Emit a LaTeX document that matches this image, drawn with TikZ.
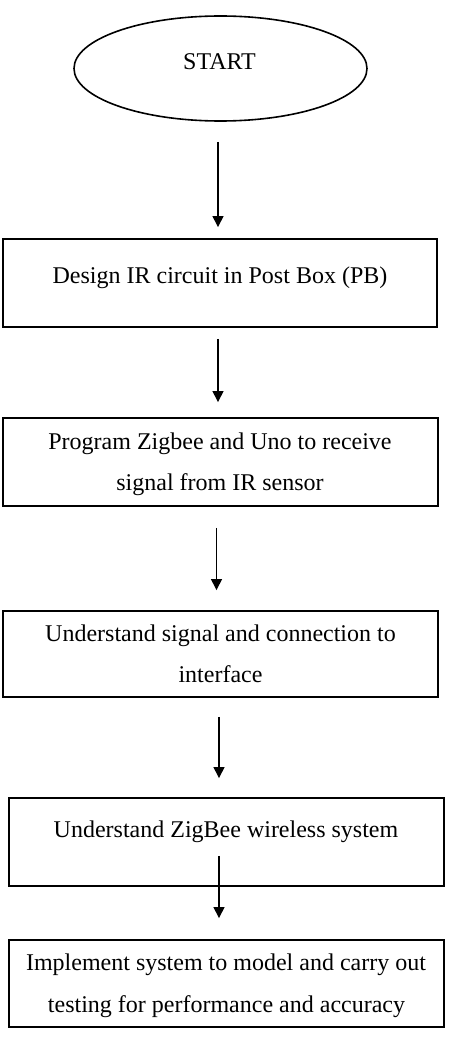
\documentclass[tikz,border=0pt]{standalone}
\usepackage{fontspec}
\setmainfont{Liberation Serif}
\usetikzlibrary{shapes.geometric,arrows.meta}
\begin{document}
\begin{tikzpicture}[x=1pt,y=-1pt,
  box/.style={draw, line width=1.9pt, rectangle, inner sep=0pt, minimum height=88pt},
  startshape/.style={draw, line width=1.6pt, ellipse, inner sep=0pt, minimum width=293pt, minimum height=105pt},
  txt/.style={anchor=base, inner sep=0pt, font=\fontsize{24}{28}\selectfont},
  arr/.style={line width=1.4pt, -{Triangle[width=11pt,length=11pt]}}
]
\useasboundingbox (0,0) rectangle (449,1054);
% shapes
\node[startshape] (e) at (220.5,68.5) {};
\node[box, minimum width=434pt] (b1) at (220,283) {};
\node[box, minimum width=435pt] (b2) at (220.5,462) {};
\node[box, minimum width=435pt, minimum height=86pt] (b3) at (220.5,654) {};
\node[box, minimum width=435pt] (b4) at (226.5,842) {};
\node[box, minimum width=435pt, minimum height=87pt] (b5) at (226.5,983.5) {};
% texts
\node[txt] (t0) at (219.5,70) {START};
\node[txt] (t1) at (220,283) {Design IR circuit in Post Box (PB)};
\node[txt] (t2a) at (220,449) {Program Zigbee and Uno to receive};
\node[txt] (t2b) at (220,490) {signal from IR sensor};
\node[txt] (t3a) at (220.5,641) {Understand signal and connection to};
\node[txt] (t3b) at (220.5,682) {interface};
\node[txt] (t4) at (226,837) {Understand ZigBee wireless system};
\node[txt] (t5a) at (226,970) {Implement system to model and carry out};
\node[txt] (t5b) at (226.5,1012) {testing for performance and accuracy};
% arrow columns
\coordinate (ax1) at (218,0);
\coordinate (ax2) at (218,0);
\coordinate (ax3) at (216.5,0);
\coordinate (ax4) at (219,0);
\coordinate (ax5) at (219,0);
% connectors
\draw[arr, shorten <=20pt, shorten >=11pt] (e.south -| ax1) -- (b1.north -| ax1);
\draw[arr, shorten <=11pt, shorten >=15pt] (b1.south -| ax2) -- (b2.north -| ax2);
\draw[arr, shorten <=21pt, shorten >=20pt] (b2.south -| ax3) -- (b3.north -| ax3);
\draw[arr, shorten <=19pt, shorten >=19pt] (b3.south -| ax4) -- (b4.north -| ax4);
\draw[arr, shorten <=-31pt, shorten >=21pt] (b4.south -| ax5) -- (b5.north -| ax5);
\end{tikzpicture}
\end{document}
